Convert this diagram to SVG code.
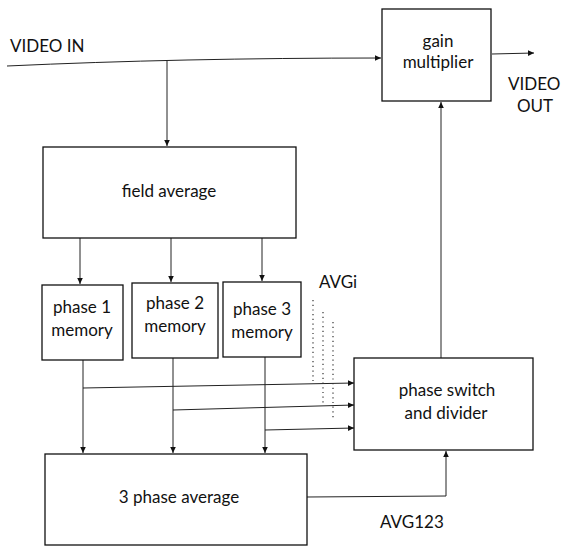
<svg xmlns="http://www.w3.org/2000/svg" width="563" height="548" viewBox="0 0 563 548">
<defs>
<marker id="arr" markerWidth="8" markerHeight="8" refX="6" refY="4" orient="auto" markerUnits="userSpaceOnUse">
<path d="M0,1.2 L6,4 L0,6.8 Z" fill="#111"/>
</marker>
</defs>
<style>
.box{fill:#fff;stroke:#111;stroke-width:1.3}
.ln{fill:none;stroke:#222;stroke-width:1}
.dot{fill:none;stroke:#333;stroke-width:1.2;stroke-dasharray:1.2 3.5}
text{font-family:Lato,"Liberation Sans",sans-serif;font-size:17px;fill:#111}
.c{text-anchor:middle}
</style>
<rect width="563" height="548" fill="#fff"/>
<g id="connectors">
<path class="ln" d="M7,66 Q180,58 381,58" marker-end="url(#arr)"/>
<path class="ln" d="M167,61 L167,146" marker-end="url(#arr)"/>
<path class="ln" d="M492,54 L534,53" marker-end="url(#arr)"/>
<path class="ln" d="M80,238 L80,284" marker-end="url(#arr)"/>
<path class="ln" d="M171,238 L171,282" marker-end="url(#arr)"/>
<path class="ln" d="M262,238 L262,281" marker-end="url(#arr)"/>
<path class="ln" d="M83,360 L83,453" marker-end="url(#arr)"/>
<path class="ln" d="M173,358 L173,453" marker-end="url(#arr)"/>
<path class="ln" d="M265,357 L265,453" marker-end="url(#arr)"/>
<path class="ln" d="M83,388 L354,383" marker-end="url(#arr)"/>
<path class="ln" d="M173,410 L354,405" marker-end="url(#arr)"/>
<path class="ln" d="M265,430 L354,428" marker-end="url(#arr)"/>
<path class="ln" d="M441,358 L441,102" marker-end="url(#arr)"/>
<path class="ln" d="M307,497 L446,496 L446,451" marker-end="url(#arr)"/>
<path class="dot" d="M313,300 L313,383"/>
<path class="dot" d="M323,312 L323,405"/>
<path class="dot" d="M333,322 L333,418"/>
</g>
<g id="gain-multiplier">
<rect class="box" x="382" y="9" width="109" height="92"/>
<text class="c" x="438" y="47">gain</text>
<text class="c" x="438" y="68">multiplier</text>
</g>
<g id="field-average">
<rect class="box" x="43" y="147" width="253" height="91"/>
<text class="c" x="169" y="197">field average</text>
</g>
<g id="phase1-memory">
<rect class="box" x="42" y="285" width="81" height="75"/>
<text class="c" x="82" y="313">phase 1</text>
<text class="c" x="82" y="336">memory</text>
</g>
<g id="phase2-memory">
<rect class="box" x="132" y="283" width="86" height="75"/>
<text class="c" x="175" y="309">phase 2</text>
<text class="c" x="175" y="332">memory</text>
</g>
<g id="phase3-memory">
<rect class="box" x="223" y="282" width="78" height="75"/>
<text class="c" x="262" y="315">phase 3</text>
<text class="c" x="262" y="338">memory</text>
</g>
<g id="phase-switch">
<rect class="box" x="354" y="358" width="179" height="92"/>
<text class="c" x="447" y="396">phase switch</text>
<text class="c" x="446" y="419">and divider</text>
</g>
<g id="three-phase-average">
<rect class="box" x="45" y="454" width="262" height="91"/>
<text class="c" x="179" y="503">3 phase average</text>
</g>
<g id="labels">
<text x="10" y="52">VIDEO IN</text>
<text x="508" y="90">VIDEO</text>
<text x="517" y="112">OUT</text>
<text x="319" y="288">AVGi</text>
<text x="380" y="528">AVG123</text>
</g>
</svg>
